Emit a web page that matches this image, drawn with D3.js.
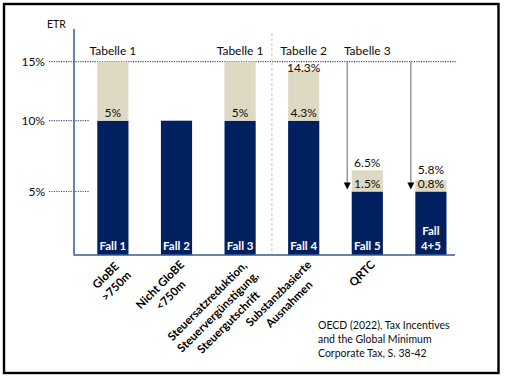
<!DOCTYPE html>
<html><head><meta charset="utf-8">
<script src="https://cdn.jsdelivr.net/npm/d3@7"></script>
<style>
body{margin:0;background:#fff;}
svg{display:block;font-family:Lato,"Open Sans",sans-serif;}
</style></head>
<body><svg id="c" width="507" height="380"></svg>
<script>
const categories = ["Fall 1","Fall 2","Fall 3","Fall 4","Fall 5","Fall 4+5"];
const baseValues = [10,10,10,10,5,5];
const addValues = [5,0,5,4.3,1.5,0.8];
const addLabels = ["5%",null,"5%","4.3%","1.5%","0.8%"];
const totalLabels = [null,null,null,"14.3%","6.5%","5.8%"];
const tableLabels = ["Tabelle 1",null,"Tabelle 1","Tabelle 2","Tabelle 3",null];
const axisLabels = [["GloBE",">750m"],["Nicht GloBE","<750m"],["Steuersatzreduktion,","Steuervergünstigung,","Steuergutschrift"],["Substanzbasierte","Ausnahmen"],["QRTC"],[]];
const arrowCats = ["Fall 5","Fall 4+5"];
const yTicks = [5,10,15];
const yTickLabels = ["5%","10%","15%"];
const minRate = 15, arrowTo = 5;
const sourceLines = ["OECD (2022), Tax Incentives","and the Global Minimum","Corporate Tax, S. 38-42"];

const NAVY="#002060", TAN="#ddd9c3", AXIS="#3a5896", TXT="#0d0d0d";
const svg = d3.select("#c");
const x = d3.scaleBand().domain(categories).range([97.3,446.5]).paddingInner(0.51).paddingOuter(0);
const y = d3.scaleLinear().domain([0,5,10,15]).range([255,191.5,120.7,61.7]);
const bw = x.bandwidth();
const tableY = 55;

// frame
svg.append("rect").attr("x",4).attr("y",4).attr("width",494.5).attr("height",369)
  .attr("fill","none").attr("stroke","#000").attr("stroke-width",2.4);

// divider between Fall 3 and Fall 4
const divX = (x("Fall 3")+bw + x("Fall 4"))/2;
svg.append("line").attr("x1",divX).attr("x2",divX).attr("y1",33).attr("y2",y(0))
  .attr("stroke","#c8c8c8").attr("stroke-dasharray","3,2").attr("stroke-width",1);

// grid lines
yTicks.forEach((t,i)=>{
  const x2 = t===minRate ? 456 : 89;
  svg.append("line").attr("x1",49).attr("x2",x2).attr("y1",y(t)).attr("y2",y(t))
    .attr("stroke",AXIS).attr("stroke-width",1.2).attr("stroke-dasharray","1.2,1.2");
  svg.append("text").attr("x",45).attr("y",y(t)).attr("dy","0.36em").attr("text-anchor","end")
    .attr("font-size",12).attr("fill",TXT).text(yTickLabels[i]);
});
svg.append("text").attr("x",47).attr("y",28).attr("font-size",10.5).attr("fill",TXT).text("ETR");

// bars
const g = svg.append("g");
categories.forEach((c,i)=>{
  g.append("rect").attr("x",x(c)).attr("width",bw).attr("y",y(baseValues[i]))
    .attr("height",y(0)-y(baseValues[i])).attr("fill",NAVY);
  if(addValues[i]>0){
    const top = baseValues[i]+addValues[i];
    g.append("rect").attr("x",x(c)).attr("width",bw).attr("y",y(top))
      .attr("height",y(baseValues[i])-y(top)).attr("fill",TAN);
  }
  const cx = x(c)+bw/2;
  const addY = y(baseValues[i])-8;
  if(addLabels[i]) g.append("text").attr("x",cx).attr("y",addY).attr("dy","0.36em")
    .attr("text-anchor","middle").attr("font-size",12).attr("fill",TXT).text(addLabels[i]);
  if(totalLabels[i]){
    let ty = Math.min(y(baseValues[i]+addValues[i])-8, addY-13.5);
    ty = Math.max(ty, tableY+13);
    g.append("text").attr("x",cx).attr("y",ty).attr("dy","0.36em")
      .attr("text-anchor","middle").attr("font-size",12).attr("fill",TXT).text(totalLabels[i]);
  }
  if(tableLabels[i]) g.append("text").attr("x",cx).attr("y",tableY)
    .attr("text-anchor","middle").attr("font-size",12).attr("fill",TXT).text(tableLabels[i]);
  // Fall label inside bar
  const parts = c.split(" ");
  const lines = parts[1].length>1 ? [parts[0], parts[1]] : [c];
  lines.forEach((l,k)=>{
    g.append("text").attr("x",cx).attr("y",250-(lines.length-1-k)*15.5)
      .attr("text-anchor","middle").attr("font-size",11.5).attr("font-weight","bold")
      .attr("fill","#fff").text(l);
  });
  // rotated category labels
  const al = axisLabels[i];
  if(al.length){
    const lg = svg.append("g").attr("transform",`translate(${cx+1},${y(0)+3}) rotate(-45)`);
    const ts = al.map((l,k)=> lg.append("text").attr("y",10.5+k*15).attr("font-size",11.5)
      .attr("font-weight","bold").attr("fill","#000").attr("text-anchor","middle").text(l));
    const W = d3.max(ts, t=>t.node().getComputedTextLength());
    ts.forEach(t=>t.attr("x",-W/2));
  }
});

// axes
svg.append("line").attr("x1",74).attr("x2",74).attr("y1",29).attr("y2",y(0)+0.5)
  .attr("stroke",AXIS).attr("stroke-width",1.5);
svg.append("line").attr("x1",74).attr("x2",455).attr("y1",y(0)).attr("y2",y(0))
  .attr("stroke",AXIS).attr("stroke-width",1.5);

// arrows
arrowCats.forEach(c=>{
  const ax = x(c)-4.5;
  svg.append("line").attr("x1",ax).attr("x2",ax).attr("y1",y(minRate)).attr("y2",y(arrowTo)-6)
    .attr("stroke","#808080").attr("stroke-width",1.2);
  const ty = y(arrowTo)-2;
  svg.append("path").attr("d",`M${ax-3.5},${ty-7}L${ax+3.5},${ty-7}L${ax},${ty}Z`).attr("fill","#000");
});

// source
sourceLines.forEach((l,k)=>{
  svg.append("text").attr("x",318).attr("y",329).attr("dy",k*14.2).attr("font-size",10.5)
    .attr("fill",TXT).text(l);
});
</script></body></html>
